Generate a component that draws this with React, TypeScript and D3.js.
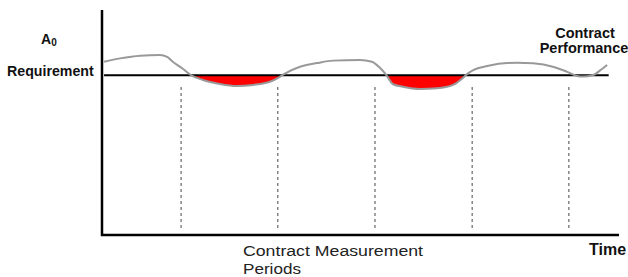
import * as d3 from "d3";
import { useEffect, useRef } from "react";

// Contract performance over time (time units 0-100, A0 in % of axis height)
const timePoints = [
  0.4, 3.5, 7.4, 11.2, 12.6, 13.7, 15.5, 17.2, 19.5, 22.8, 26.1, 29.2, 32.5, 34.4,
  35.2, 38.3, 41.6, 44.7, 49.9, 52.2, 53.8, 55.0, 56.3, 58.2, 61.5, 64.8, 67.9,
  69.8, 70.6, 71.8, 74.5, 80.3, 83.4, 87.2, 89.9, 91.9, 93.0, 95.0, 96.7, 97.7,
];
const performance = [
  77.0, 78.5, 79.7, 80.0, 79.2, 77.0, 74.1, 71.1, 68.9, 67.1, 66.2, 66.7, 68.1, 70.3,
  71.5, 74.8, 76.4, 77.5, 77.8, 77.0, 74.2, 71.1, 67.0, 65.9, 64.9, 65.2, 66.7,
  69.8, 71.5, 73.3, 75.1, 76.6, 76.3, 74.8, 72.6, 70.7, 70.4, 71.1, 73.8, 75.6,
];
const requirement = 71;
const requirementSpan = [0.4, 98];
// Boundaries of the contract measurement periods
const periodBounds = [15.3, 34.0, 52.8, 71.6, 90.3];
// Periods where performance falls short (shaded red)
const shortfalls = [
  [17.0, 35.2],
  [54.8, 70.6],
];

const W = 628;
const H = 277;
const FONT = "'Liberation Sans', Arial, Helvetica, sans-serif";

const App = () => {
  const ref = useRef<SVGSVGElement | null>(null);

  useEffect(() => {
    document.body.style.margin = "0";
    if (!ref.current) return;
    const svg = d3.select(ref.current);
    svg.selectAll("*").remove();

    const x = d3.scaleLinear().domain([0, 100]).range([102, 619]);
    const y = d3.scaleLinear().domain([0, 100]).range([235, 10]);

    const data = timePoints.map((t, i) => ({ t, v: performance[i] }));

    // --- clip for the shortfall fill: only below the requirement line ---
    const defs = svg.append("defs");
    const clip = defs.append("clipPath").attr("id", "shortfall-clip");
    shortfalls.forEach(([a, b]) => {
      clip
        .append("rect")
        .attr("x", x(a))
        .attr("y", y(requirement))
        .attr("width", x(b) - x(a))
        .attr("height", y(0) - y(requirement));
    });

    const area = d3
      .area<{ t: number; v: number }>()
      .x((d) => x(d.t))
      .y0(y(requirement))
      .y1((d) => y(d.v))
      .curve(d3.curveMonotoneX);

    svg
      .append("path")
      .datum(data)
      .attr("d", area)
      .attr("fill", "#ff0000")
      .attr("clip-path", "url(#shortfall-clip)");

    // dashed measurement period boundaries
    svg
      .append("g")
      .selectAll("line")
      .data(periodBounds)
      .join("line")
      .attr("x1", (d) => x(d))
      .attr("x2", (d) => x(d))
      .attr("y1", 87)
      .attr("y2", 228)
      .attr("stroke", "#666")
      .attr("stroke-width", 1.2)
      .attr("stroke-dasharray", "3,3");

    // requirement line
    svg
      .append("line")
      .attr("x1", x(requirementSpan[0]))
      .attr("x2", x(requirementSpan[1]))
      .attr("y1", y(requirement))
      .attr("y2", y(requirement))
      .attr("stroke", "#000")
      .attr("stroke-width", 2);

    // performance curve
    const line = d3
      .line<{ t: number; v: number }>()
      .x((d) => x(d.t))
      .y((d) => y(d.v))
      .curve(d3.curveMonotoneX);

    svg
      .append("path")
      .datum(data)
      .attr("d", line)
      .attr("fill", "none")
      .attr("stroke", "#999")
      .attr("stroke-width", 2);

    // axes (plain lines, no ticks)
    svg
      .append("path")
      .attr("d", `M${x(0)},${y(100)}V${y(0)}H${x(100)}`)
      .attr("fill", "none")
      .attr("stroke", "#000")
      .attr("stroke-width", 2.5);

    // --- labels ---
    const a0 = svg
      .append("text")
      .attr("x", 41)
      .attr("y", 43.5)
      .attr("font-family", FONT)
      .attr("font-weight", "bold")
      .attr("font-size", 14)
      .attr("fill", "#111");
    a0.append("tspan").text("A");
    a0.append("tspan").attr("font-size", 10).attr("dy", 2.5).text("0");

    svg
      .append("text")
      .attr("x", 7)
      .attr("y", 75.5)
      .attr("font-family", FONT)
      .attr("font-weight", "bold")
      .attr("font-size", 14.2)
      .attr("fill", "#111")
      .text("Requirement");

    const perf = svg
      .append("text")
      .attr("text-anchor", "middle")
      .attr("font-family", FONT)
      .attr("font-weight", "bold")
      .attr("font-size", 14.5)
      .attr("fill", "#111");
    perf.append("tspan").attr("x", 585).attr("y", 37.5).text("Contract");
    perf.append("tspan").attr("x", 584).attr("y", 52.5).text("Performance");

    // two-line caption under the axis, stretched to the reference width
    svg
      .append("text")
      .attr("x", 243)
      .attr("y", 256)
      .attr("font-family", FONT)
      .attr("font-size", 15.5)
      .attr("fill", "#222")
      .attr("textLength", 180)
      .attr("lengthAdjust", "spacingAndGlyphs")
      .text("Contract Measurement");
    svg
      .append("text")
      .attr("x", 243)
      .attr("y", 274)
      .attr("font-family", FONT)
      .attr("font-size", 15.5)
      .attr("fill", "#222")
      .attr("textLength", 58)
      .attr("lengthAdjust", "spacingAndGlyphs")
      .text("Periods");

    svg
      .append("text")
      .attr("x", 589)
      .attr("y", 255)
      .attr("font-family", FONT)
      .attr("font-weight", "bold")
      .attr("font-size", 16)
      .attr("fill", "#111")
      .text("Time");
  }, []);

  return <svg ref={ref} width={W} height={H} style={{ display: "block", background: "#fff" }} />;
};

export default App;
